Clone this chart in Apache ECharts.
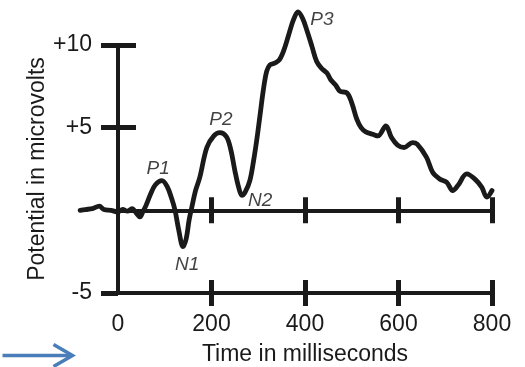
<!DOCTYPE html>
<html>
<head>
<meta charset="utf-8">
<script src="https://cdn.jsdelivr.net/npm/echarts@6/dist/echarts.min.js"></script>
<style>
    html, body { margin: 0; padding: 0; background: #fff; }
    #erp { width: 525px; height: 367px; }
</style>
</head>
<body>
<div id="erp"></div>
<script>
// waveform (time in ms, potential in microvolts)
const times = [-81, -70, -55, -40, -30, -15, 0, 10, 20, 30, 40, 47, 53, 60, 70, 80, 94, 105, 115, 122,
    130, 139, 146, 152, 158, 166, 175, 190, 205, 218, 232, 241, 250, 258, 265, 272, 282, 290, 297, 304,
    311, 318, 325, 335, 345, 355, 365, 375, 385, 395, 405, 415, 425, 435, 447, 455, 465, 475, 490, 500,
    511, 520, 530, 545, 556, 573, 585, 598, 612, 630, 640, 660, 673, 688, 703, 716, 727, 746, 763, 778, 789, 800];
const potentials = [0.0, 0.05, 0.1, 0.25, 0.05, 0.0, -0.1, 0.05, -0.05, 0.1, -0.2, -0.4, -0.1, 0.3, 1.0, 1.55, 1.8, 1.45, 0.7, 0.0,
    -1.2, -2.2, -1.7, -0.6, 0.2, 1.2, 2.0, 3.8, 4.5, 4.7, 4.45, 3.7, 2.4, 1.4, 0.9, 1.1, 1.8, 3.0, 4.3, 5.8,
    7.3, 8.4, 8.8, 8.9, 9.1, 9.7, 10.6, 11.5, 12.0, 11.6, 10.8, 9.9, 9.0, 8.6, 8.3, 7.9, 7.6, 7.2, 7.1, 6.5,
    5.5, 5.0, 4.75, 4.6, 4.5, 5.1, 4.4, 3.95, 3.8, 4.1, 4.0, 3.2, 2.3, 1.9, 1.7, 1.2, 1.5, 2.2, 1.9, 1.4, 0.8, 1.2];

const xTicks = [0, 200, 400, 600, 800];
const yTicks = [-5, 5, 10];

// component names and where their text sits (ms, microvolts)
const peakNames = ['P1', 'N1', 'P2', 'N2', 'P3'];
const peakTimes = [86, 148, 220, 304, 436];
const peakValues = [2.5, -3.3, 5.5, 0.6, 11.5];

const ink = '#1a1a1a';
const font = '"Liberation Sans", Arial, sans-serif';

let myChart = echarts.init(document.getElementById('erp'));

// the drawn axes live in grid 0 (0..800 ms); the waveform starts before 0,
// so it goes in a hidden grid 1 with the same scale reaching back to -100 ms
let option = {
    animation: false,
    grid: [
        { left: 118, right: 33, top: 45, bottom: 74, outerBoundsMode: 'none' },
        { left: 71.25, right: 33, top: 45, bottom: 74, outerBoundsMode: 'none' }
    ],
    xAxis: [
        {   // bottom axis with labels
            type: 'value', min: 0, max: 800, position: 'bottom', gridIndex: 0,
            axisLine: { onZero: false, lineStyle: { color: ink, width: 4 } },
            axisTick: { customValues: xTicks.slice(1), length: 13, lineStyle: { color: ink, width: 5 } },
            axisLabel: { customValues: xTicks, color: ink, fontSize: 23, fontFamily: font, margin: 20 },
            splitLine: { show: false },
            name: 'Time in milliseconds',
            nameLocation: 'middle',
            nameGap: 50,
            nameTextStyle: { color: ink, fontSize: 23, fontFamily: font }
        },
        {   // upward half of the bottom ticks
            type: 'value', min: 0, max: 800, position: 'bottom', gridIndex: 0,
            axisLine: { onZero: false, show: false },
            axisTick: { customValues: xTicks.slice(1), inside: true, length: 13, lineStyle: { color: ink, width: 5 } },
            axisLabel: { show: false },
            splitLine: { show: false }
        },
        {   // zero line
            type: 'value', min: 0, max: 800, position: 'bottom', gridIndex: 0,
            axisLine: { onZero: true, lineStyle: { color: ink, width: 4 } },
            axisTick: { customValues: xTicks.slice(1), length: 13, lineStyle: { color: ink, width: 5 } },
            axisLabel: { show: false },
            splitLine: { show: false }
        },
        {
            type: 'value', min: 0, max: 800, position: 'bottom', gridIndex: 0,
            axisLine: { onZero: true, show: false },
            axisTick: { customValues: xTicks.slice(1), inside: true, length: 13, lineStyle: { color: ink, width: 5 } },
            axisLabel: { show: false },
            splitLine: { show: false }
        },
        {   // data axis, hidden
            type: 'value', min: -100, max: 800, gridIndex: 1, show: false
        }
    ],
    yAxis: [
        {
            type: 'value', min: -5, max: 10, position: 'left', gridIndex: 0,
            axisLine: { show: true, onZero: false, lineStyle: { color: ink, width: 4 } },
            axisTick: { show: true, customValues: yTicks, length: 17, lineStyle: { color: ink, width: 5 } },
            axisLabel: {
                customValues: yTicks, color: ink, fontSize: 23, fontFamily: font, margin: 26,
                formatter: function (v) { return v > 0 ? '+' + v : '' + v; }
            },
            splitLine: { show: false },
            name: 'Potential in microvolts',
            nameLocation: 'middle',
            nameGap: 69,
            nameMoveOverlap: false,
            nameTextStyle: { color: ink, fontSize: 23, fontFamily: font }
        },
        {
            type: 'value', min: -5, max: 10, position: 'left', gridIndex: 0,
            axisLine: { show: false, onZero: false },
            axisTick: { show: true, customValues: [5, 10], inside: true, length: 18, lineStyle: { color: ink, width: 5 } },
            axisLabel: { show: false },
            splitLine: { show: false }
        },
        {
            type: 'value', min: -5, max: 10, gridIndex: 1, show: false
        }
    ],
    series: [
        {
            type: 'line',
            xAxisIndex: 4,
            yAxisIndex: 2,
            data: times.map((t, i) => [t, potentials[i]]),
            smooth: 0.35,
            symbol: 'none',
            clip: false,
            lineStyle: { color: ink, width: 4.8, join: 'round', cap: 'round' }
        },
        {
            type: 'scatter',
            xAxisIndex: 4,
            yAxisIndex: 2,
            data: peakNames.map((n, i) => ({ name: n, value: [peakTimes[i], peakValues[i]] })),
            symbolSize: 0,
            clip: false,
            label: {
                show: true, position: 'inside', formatter: '{b}',
                color: '#111', fontSize: 19, fontStyle: 'italic', fontFamily: font
            }
        }
    ],
    graphic: [
        {
            type: 'group', left: 0, top: 342,
            children: [
                { type: 'line', shape: { x1: 0, y1: 11, x2: 69, y2: 11 }, style: { stroke: '#4a7ebb', lineWidth: 3.5 } },
                { type: 'polyline', shape: { points: [[51, 0], [70, 11], [51, 22]] }, style: { stroke: '#4a7ebb', lineWidth: 3.5, fill: null } }
            ]
        }
    ]
};

myChart.setOption(option);
</script>
</body>
</html>
